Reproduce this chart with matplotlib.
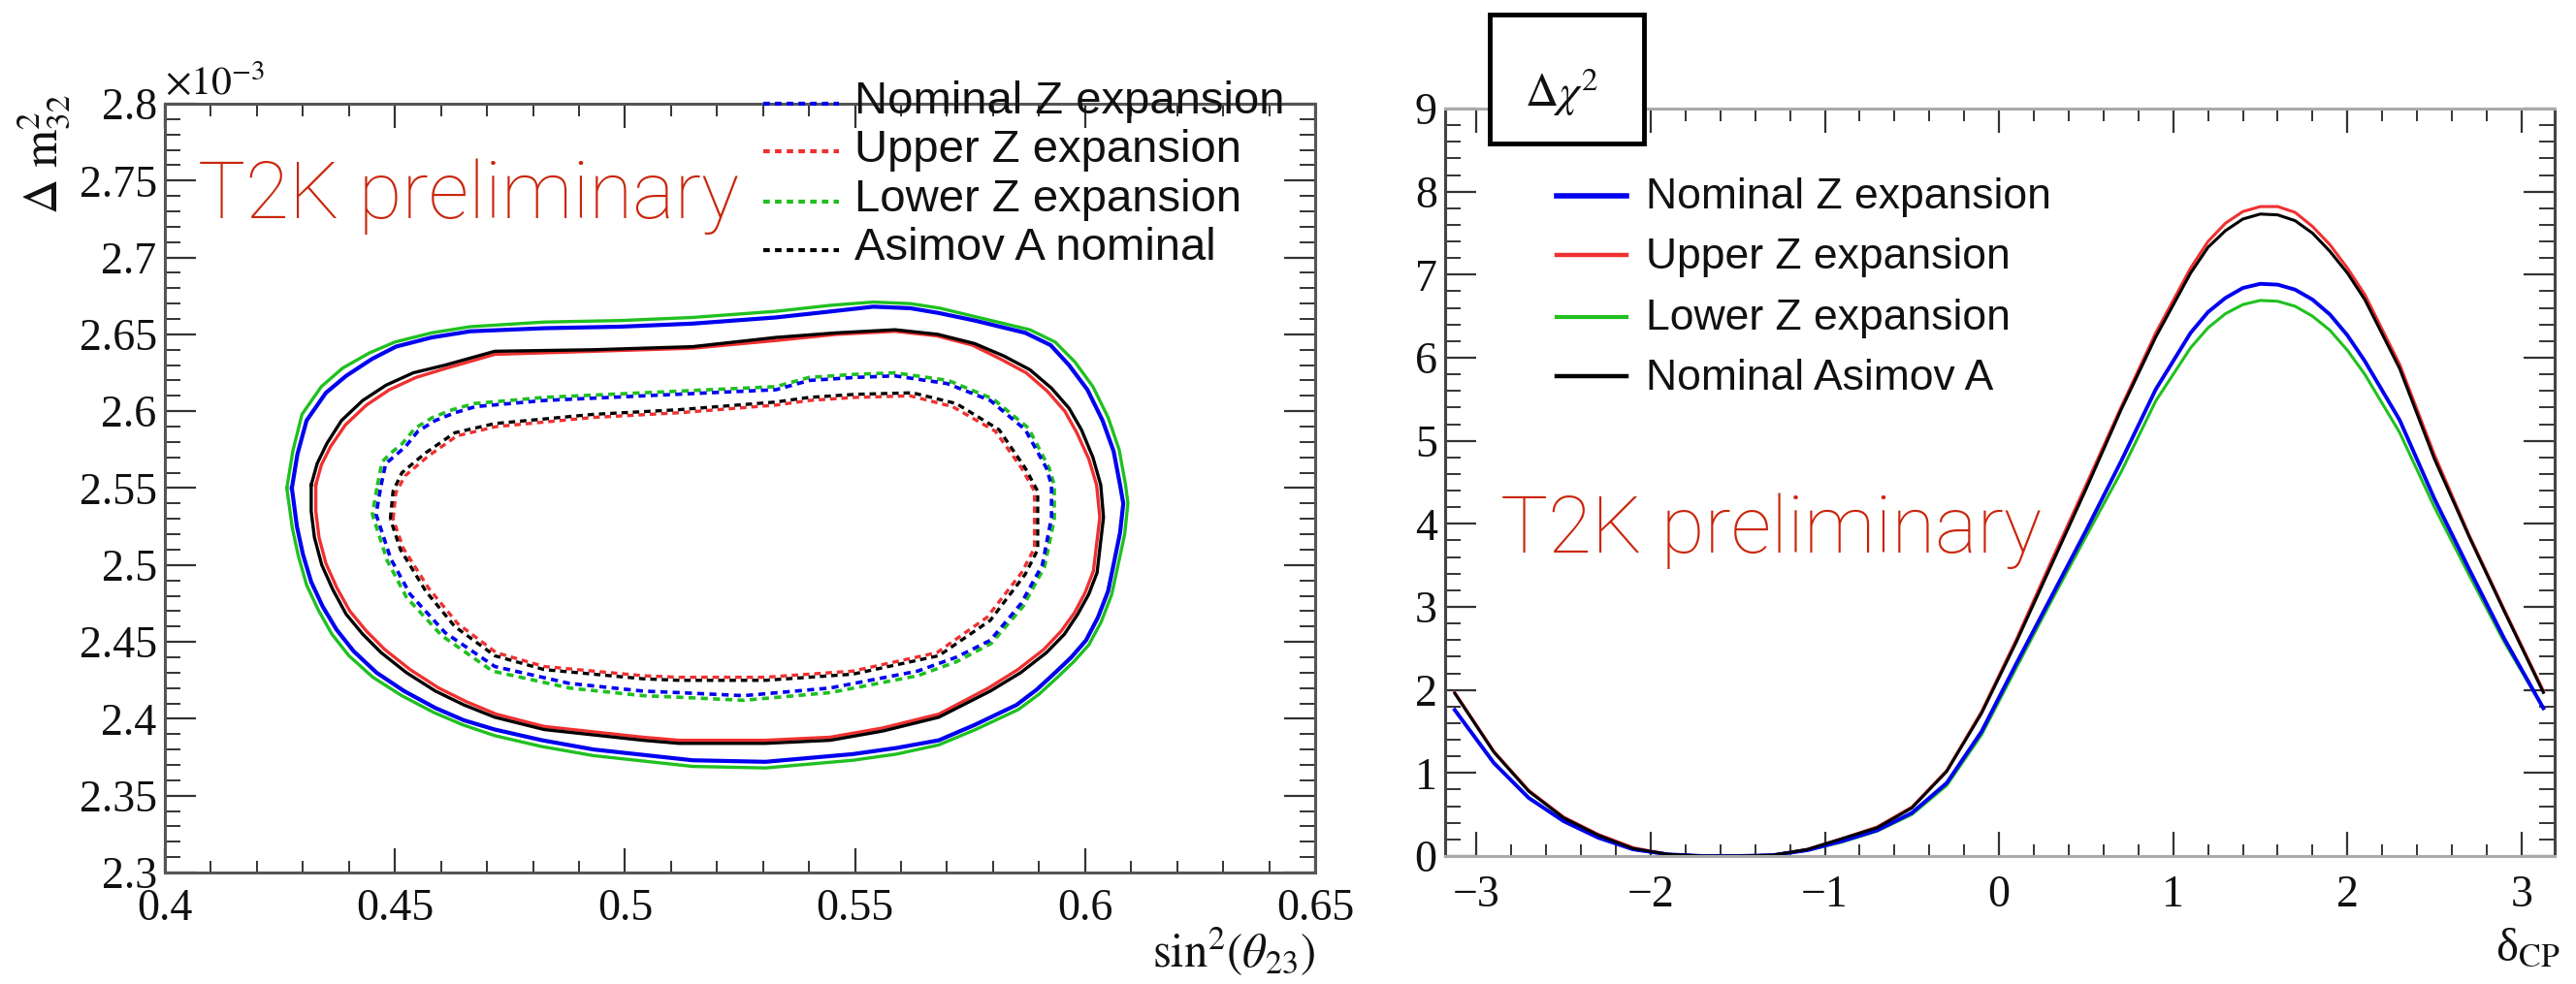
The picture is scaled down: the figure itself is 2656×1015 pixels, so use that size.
import numpy as np
import matplotlib
matplotlib.use("Agg")
import matplotlib.pyplot as plt
from matplotlib.lines import Line2D
from matplotlib.patches import Rectangle
from matplotlib.ticker import MultipleLocator, FuncFormatter

plt.rcParams['font.family'] = ['Liberation Serif', 'DejaVu Serif']
plt.rcParams['mathtext.fontset'] = 'stix'

# ---------------- data: left panel contours (sin^2 theta23, dm2_32 [1e-3 eV^2]) ----------------
nom_solid_x = [0.4276, 0.4288, 0.4308, 0.4350, 0.4394, 0.4450, 0.4502, 0.4580, 0.4664, 0.4824, 0.4990,
               0.5147, 0.5328, 0.5450, 0.5540, 0.5620, 0.5680, 0.5760, 0.5870, 0.5925, 0.5965, 0.6005,
               0.6038, 0.6062, 0.6076, 0.6083, 0.6076, 0.6050, 0.6028, 0.6002, 0.5970, 0.5935, 0.5895,
               0.5851, 0.5760, 0.5682, 0.5590, 0.5495, 0.5305, 0.5147, 0.4932, 0.4820, 0.4717, 0.4650,
               0.4588, 0.4520, 0.4460, 0.4410, 0.4373, 0.4343, 0.4318, 0.4300, 0.4287]
nom_solid_y = [2.550, 2.572, 2.594, 2.612, 2.623, 2.634, 2.642, 2.648, 2.652, 2.654, 2.655,
               2.657, 2.661, 2.665, 2.668, 2.667, 2.664, 2.659, 2.651, 2.643, 2.630, 2.614,
               2.594, 2.574, 2.552, 2.540, 2.521, 2.483, 2.466, 2.451, 2.440, 2.430, 2.419,
               2.409, 2.396, 2.386, 2.381, 2.377, 2.372, 2.373, 2.380, 2.386, 2.393, 2.399,
               2.407, 2.418, 2.430, 2.444, 2.458, 2.473, 2.489, 2.507, 2.525]

low_solid_x = [0.4265, 0.4278, 0.4298, 0.4340, 0.4386, 0.4445, 0.4500, 0.4580, 0.4664, 0.4824, 0.4990,
               0.5147, 0.5328, 0.5450, 0.5540, 0.5620, 0.5685, 0.5768, 0.5880, 0.5935, 0.5978, 0.6017,
               0.6050, 0.6074, 0.6088, 0.6093, 0.6086, 0.6058, 0.6035, 0.6008, 0.5975, 0.5940, 0.5900,
               0.5855, 0.5762, 0.5682, 0.5590, 0.5495, 0.5305, 0.5147, 0.4932, 0.4818, 0.4717, 0.4648,
               0.4585, 0.4515, 0.4452, 0.4400, 0.4363, 0.4333, 0.4308, 0.4290, 0.4277]
low_solid_y = [2.550, 2.574, 2.598, 2.616, 2.628, 2.638, 2.645, 2.651, 2.655, 2.658, 2.659,
               2.661, 2.665, 2.669, 2.671, 2.670, 2.667, 2.661, 2.653, 2.645, 2.632, 2.616,
               2.596, 2.575, 2.552, 2.540, 2.520, 2.481, 2.463, 2.448, 2.437, 2.427, 2.416,
               2.406, 2.393, 2.383, 2.377, 2.373, 2.368, 2.369, 2.376, 2.382, 2.389, 2.396,
               2.404, 2.415, 2.427, 2.441, 2.455, 2.471, 2.487, 2.506, 2.524]

asi_solid_x = [0.4318, 0.4331, 0.4352, 0.4384, 0.4430, 0.4481, 0.4540, 0.4609, 0.4717, 0.4932, 0.5147,
               0.5328, 0.5460, 0.5587, 0.5680, 0.5760, 0.5823, 0.5880, 0.5927, 0.5965, 0.5992, 0.6017,
               0.6034, 0.6040, 0.6026, 0.6008, 0.5984, 0.5955, 0.5916, 0.5860, 0.5794, 0.5682, 0.5560,
               0.5446, 0.5305, 0.5117, 0.5039, 0.4824, 0.4717, 0.4650, 0.4588, 0.4525, 0.4470, 0.4430,
               0.4394, 0.4365, 0.4341, 0.4325, 0.4318]
asi_solid_y = [2.552, 2.566, 2.579, 2.594, 2.607, 2.617, 2.625, 2.630, 2.639, 2.640, 2.642,
               2.648, 2.651, 2.653, 2.650, 2.644, 2.636, 2.627, 2.615, 2.602, 2.588, 2.570,
               2.552, 2.531, 2.495, 2.481, 2.468, 2.455, 2.443, 2.430, 2.418, 2.401, 2.392,
               2.386, 2.384, 2.384, 2.386, 2.393, 2.401, 2.409, 2.418, 2.430, 2.443, 2.455,
               2.468, 2.484, 2.500, 2.518, 2.535]

up_solid_x = [0.4328, 0.4340, 0.4360, 0.4392, 0.4438, 0.4488, 0.4546, 0.4612, 0.4717, 0.4932, 0.5147,
              0.5328, 0.5460, 0.5587, 0.5678, 0.5755, 0.5816, 0.5872, 0.5918, 0.5956, 0.5982, 0.6008,
              0.6025, 0.6032, 0.6018, 0.6000, 0.5977, 0.5948, 0.5910, 0.5854, 0.5790, 0.5682, 0.5560,
              0.5446, 0.5305, 0.5117, 0.5039, 0.4824, 0.4720, 0.4656, 0.4595, 0.4533, 0.4478, 0.4438,
              0.4402, 0.4374, 0.4350, 0.4335, 0.4328]
up_solid_y = [2.552, 2.565, 2.577, 2.591, 2.604, 2.614, 2.622, 2.628, 2.637, 2.639, 2.641,
              2.646, 2.650, 2.652, 2.649, 2.643, 2.634, 2.625, 2.613, 2.600, 2.586, 2.569,
              2.552, 2.531, 2.496, 2.482, 2.469, 2.457, 2.445, 2.432, 2.420, 2.403, 2.394,
              2.388, 2.386, 2.386, 2.388, 2.395, 2.403, 2.411, 2.420, 2.432, 2.445, 2.457,
              2.470, 2.485, 2.501, 2.518, 2.535]

nom_dash_x = [0.4470, 0.4480, 0.4500, 0.4523, 0.4550, 0.4588, 0.4630, 0.4675, 0.4824, 0.5039, 0.5328,
              0.5400, 0.5500, 0.5587, 0.5700, 0.5794, 0.5870, 0.5916, 0.5927, 0.5927, 0.5907, 0.5861,
              0.5794, 0.5720, 0.5636, 0.5446, 0.5258, 0.5117, 0.5039, 0.4879, 0.4717, 0.4609, 0.4533,
              0.4491, 0.4459]
nom_dash_y = [2.552, 2.566, 2.571, 2.577, 2.587, 2.594, 2.599, 2.603, 2.607, 2.610, 2.614,
              2.620, 2.622, 2.623, 2.618, 2.607, 2.588, 2.563, 2.552, 2.531, 2.500, 2.475,
              2.451, 2.440, 2.431, 2.420, 2.415, 2.417, 2.418, 2.423, 2.434, 2.456, 2.481,
              2.504, 2.533]

low_dash_x = [0.4462, 0.4472, 0.4492, 0.4516, 0.4544, 0.4582, 0.4625, 0.4672, 0.4824, 0.5039, 0.5328,
              0.5400, 0.5500, 0.5587, 0.5703, 0.5800, 0.5877, 0.5922, 0.5933, 0.5933, 0.5912, 0.5865,
              0.5796, 0.5720, 0.5636, 0.5446, 0.5258, 0.5117, 0.5039, 0.4879, 0.4712, 0.4602, 0.4525,
              0.4483, 0.4451]
low_dash_y = [2.552, 2.567, 2.573, 2.579, 2.589, 2.596, 2.601, 2.605, 2.609, 2.612, 2.616,
              2.622, 2.624, 2.625, 2.620, 2.608, 2.589, 2.563, 2.552, 2.530, 2.499, 2.473,
              2.449, 2.437, 2.428, 2.417, 2.412, 2.414, 2.415, 2.420, 2.431, 2.454, 2.479,
              2.503, 2.533]

asi_dash_x = [0.4490, 0.4496, 0.4515, 0.4567, 0.4630, 0.4717, 0.4932, 0.5117, 0.5328, 0.5400, 0.5500,
              0.5625, 0.5720, 0.5813, 0.5870, 0.5897, 0.5897, 0.5870, 0.5794, 0.5682, 0.5495, 0.5305,
              0.5117, 0.5039, 0.4824, 0.4717, 0.4630, 0.4567, 0.4512]
asi_dash_y = [2.530, 2.548, 2.560, 2.573, 2.586, 2.592, 2.598, 2.601, 2.606, 2.609, 2.611,
              2.612, 2.605, 2.588, 2.563, 2.548, 2.510, 2.494, 2.464, 2.441, 2.429, 2.425,
              2.425, 2.426, 2.432, 2.441, 2.460, 2.483, 2.510]

up_dash_x = [0.4496, 0.4502, 0.4522, 0.4573, 0.4635, 0.4720, 0.4932, 0.5117, 0.5328, 0.5400, 0.5500,
             0.5620, 0.5712, 0.5805, 0.5862, 0.5890, 0.5890, 0.5862, 0.5787, 0.5678, 0.5495, 0.5305,
             0.5117, 0.5039, 0.4824, 0.4720, 0.4636, 0.4573, 0.4518]
up_dash_y = [2.530, 2.547, 2.558, 2.571, 2.584, 2.590, 2.596, 2.599, 2.604, 2.607, 2.609,
             2.610, 2.603, 2.587, 2.563, 2.548, 2.511, 2.495, 2.466, 2.443, 2.431, 2.427,
             2.427, 2.428, 2.434, 2.443, 2.462, 2.485, 2.511]

left_labels = ["Nominal Z expansion", "Upper Z expansion", "Lower Z expansion", "Asimov A nominal"]

# ---------------- data: right panel, delta chi^2 vs delta_CP ----------------
dcp = [-3.125, -2.9, -2.7, -2.5, -2.3, -2.1, -1.9, -1.7, -1.5, -1.3, -1.1, -0.9, -0.7, -0.5, -0.3, -0.1,
       0.1, 0.3, 0.5, 0.7, 0.9, 1.1, 1.2, 1.3, 1.4, 1.5, 1.6, 1.7, 1.8, 1.9, 2.0, 2.1, 2.3, 2.5, 2.7,
       2.9, 3.125]
chi_nominal = [1.76, 1.12, 0.70, 0.42, 0.22, 0.08, 0.02, 0.00, 0.00, 0.01, 0.07, 0.18, 0.31, 0.52, 0.88, 1.50,
               2.32, 3.12, 3.92, 4.75, 5.62, 6.30, 6.55, 6.72, 6.84, 6.89, 6.88, 6.82, 6.70, 6.52, 6.27,
               5.96, 5.25, 4.30, 3.45, 2.62, 1.78]
chi_upper = [1.97, 1.26, 0.79, 0.47, 0.26, 0.10, 0.02, 0.00, 0.00, 0.01, 0.08, 0.21, 0.35, 0.59, 1.03, 1.74,
             2.61, 3.55, 4.47, 5.40, 6.30, 7.08, 7.40, 7.62, 7.76, 7.82, 7.82, 7.75, 7.58, 7.36, 7.08,
             6.76, 5.92, 4.83, 3.86, 2.97, 1.99]
chi_lower = [1.76, 1.12, 0.70, 0.42, 0.22, 0.08, 0.02, 0.00, 0.00, 0.01, 0.07, 0.17, 0.30, 0.50, 0.85, 1.46,
             2.27, 3.07, 3.85, 4.62, 5.48, 6.12, 6.36, 6.53, 6.64, 6.69, 6.68, 6.62, 6.50, 6.33, 6.09,
             5.80, 5.10, 4.20, 3.38, 2.58, 1.78]
chi_asimov = [1.96, 1.25, 0.78, 0.46, 0.25, 0.09, 0.02, 0.00, 0.00, 0.01, 0.08, 0.21, 0.34, 0.58, 1.02, 1.72,
              2.58, 3.50, 4.42, 5.37, 6.25, 7.02, 7.33, 7.53, 7.67, 7.73, 7.72, 7.65, 7.50, 7.28, 7.02,
              6.70, 5.87, 4.78, 3.84, 2.95, 1.97]
right_labels = ["Nominal Z expansion", "Upper Z expansion", "Lower Z expansion", "Nominal Asimov A"]

C_BLUE, C_RED, C_GREEN, C_BLACK = "#0000f0", "#f03030", "#20c020", "#000000"
T2K_RED = "#c9260b"

# ---------------- figure ----------------
W, H = 2656, 1015
fig = plt.figure(figsize=(W / 100, H / 100), dpi=100)


def fx(px):
    return px / W


def fy(py):
    return 1 - py / H


axL = fig.add_axes([fx(170), fy(900), fx(1356) - fx(170), fy(107) - fy(900)])
axR = fig.add_axes([fx(1490), fy(883), fx(2634) - fx(1490), fy(112) - fy(883)])


def closed(x, y):
    return np.append(x, x[0]), np.append(y, y[0])


DASH = (0, (2.0, 1.5))
for xs, ys, c, lw in [(low_solid_x, low_solid_y, C_GREEN, 2.4), (nom_solid_x, nom_solid_y, C_BLUE, 3.0),
                      (up_solid_x, up_solid_y, C_RED, 2.4), (asi_solid_x, asi_solid_y, C_BLACK, 2.4)]:
    cx, cy = closed(xs, ys)
    axL.plot(cx, cy, color=c, lw=lw, solid_joinstyle='round')
for xs, ys, c, lw in [(low_dash_x, low_dash_y, C_GREEN, 2.6), (nom_dash_x, nom_dash_y, C_BLUE, 2.6),
                      (up_dash_x, up_dash_y, C_RED, 2.4), (asi_dash_x, asi_dash_y, C_BLACK, 2.4)]:
    cx, cy = closed(xs, ys)
    axL.plot(cx, cy, color=c, lw=lw, linestyle=DASH)

axL.set_xlim(0.4, 0.65)
axL.set_ylim(2.3, 2.8)

axR.plot(dcp, chi_upper, color=C_RED, lw=2.2, solid_joinstyle='round')
axR.plot(dcp, chi_lower, color=C_GREEN, lw=2.2, solid_joinstyle='round')
axR.plot(dcp, chi_nominal, color=C_BLUE, lw=2.8, solid_joinstyle='round')
axR.plot(dcp, chi_asimov, color=C_BLACK, lw=2.2, solid_joinstyle='round')
axR.set_xlim(-3.18, 3.19)
axR.set_ylim(0, 9)

TICK_FS = 33
fmt = FuncFormatter(lambda v, p: ('%g' % round(v, 6)).replace('-', '\u2212'))


def style_axes(ax, xmaj, xmin, ymaj, ymin, xpad, ypad, spine_tb, spine_lr):
    ax.xaxis.set_major_locator(MultipleLocator(xmaj))
    ax.xaxis.set_minor_locator(MultipleLocator(xmin))
    ax.yaxis.set_major_locator(MultipleLocator(ymaj))
    ax.yaxis.set_minor_locator(MultipleLocator(ymin))
    ax.xaxis.set_major_formatter(fmt)
    ax.yaxis.set_major_formatter(fmt)
    ax.tick_params(axis='both', which='both', direction='in', top=True, right=True, colors='#333333',
                   labelcolor='#111111')
    ax.tick_params(axis='x', which='major', length=18, width=1.6, pad=xpad, labelsize=TICK_FS)
    ax.tick_params(axis='x', which='minor', length=9, width=1.4)
    ax.tick_params(axis='y', which='major', length=23, width=1.6, pad=ypad, labelsize=TICK_FS)
    ax.tick_params(axis='y', which='minor', length=11.5, width=1.4)
    for s in ['top', 'bottom']:
        ax.spines[s].set_color(spine_tb)
        ax.spines[s].set_linewidth(2.2)
    for s in ['left', 'right']:
        ax.spines[s].set_color(spine_lr)
        ax.spines[s].set_linewidth(2.2)


style_axes(axL, 0.05, 0.01, 0.05, 0.01, 12, 6, '#555555', '#555555')
style_axes(axR, 1, 0.2, 1, 0.2, 14, 6, '#aaaaaa', '#444444')

# axis labels (ROOT style, placed at the axis ends)
fig.text(fx(45), fy(97), r"$\Delta\ \mathrm{m}^{2}_{32}$", rotation=90, ha='center', va='top', fontsize=36,
         color='#111111')
fig.text(fx(170), fy(97), r"$\times10^{-3}$", ha='left', va='baseline', fontsize=30, color='#111111')
fig.text(fx(1356), fy(998), r"$\mathrm{sin}^{2}(\theta_{23})$", ha='right', va='baseline', fontsize=35,
         color='#111111')
fig.text(fx(2640), fy(990), r"δ$_{\mathrm{CP}}$", ha='right', va='baseline', fontsize=35,
         color='#111111')

# Delta chi^2 box
fig.add_artist(Rectangle((fx(1536), fy(148)), fx(1695) - fx(1536), fy(15) - fy(148),
                         transform=fig.transFigure, facecolor='white', edgecolor='black', lw=3.5,
                         zorder=10))
fig.text(fx(1610), fy(110), r"$\Delta\chi^{2}$", ha='center', va='baseline', fontsize=34, zorder=11,
         color='#111111')

# legends (drawn at their reference positions)
left_rows_line = [107, 156, 208, 258]
left_rows_text = [117, 167, 218, 268]
for lab, c, yl, yt in zip(left_labels, [C_BLUE, C_RED, C_GREEN, C_BLACK], left_rows_line, left_rows_text):
    fig.add_artist(Line2D([fx(787), fx(865)], [fy(yl), fy(yl)], transform=fig.transFigure, color=c,
                          lw=3.0, linestyle=(0, (1.6, 1.3))))
    fig.text(fx(881), fy(yt), lab, ha='left', va='baseline', fontsize=34,
             family=['Liberation Sans', 'DejaVu Sans'], color='#111111')

right_rows_line = [202, 263, 327, 388]
right_rows_text = [215, 277, 340, 402]
for lab, c, yl, yt, lw in zip(right_labels, [C_BLUE, C_RED, C_GREEN, C_BLACK], right_rows_line,
                              right_rows_text, [4.0, 3.2, 3.0, 3.2]):
    fig.add_artist(Line2D([fx(1605), fx(1677)], [fy(yl), fy(yl)], transform=fig.transFigure, color=c,
                          lw=lw))
    fig.text(fx(1697), fy(yt), lab, ha='left', va='baseline', fontsize=32,
             family=['Liberation Sans', 'DejaVu Sans'], color='#111111')

# T2K preliminary stamps
for xp, yp in [(204, 225), (1547, 570)]:
    fig.text(fx(xp), fy(yp), "T2K preliminary", ha='left', va='baseline', fontsize=59,
             family=['Roboto', 'Open Sans', 'DejaVu Sans'], fontweight='light', color=T2K_RED)

fig.savefig("out.png", dpi=100, facecolor='white')
